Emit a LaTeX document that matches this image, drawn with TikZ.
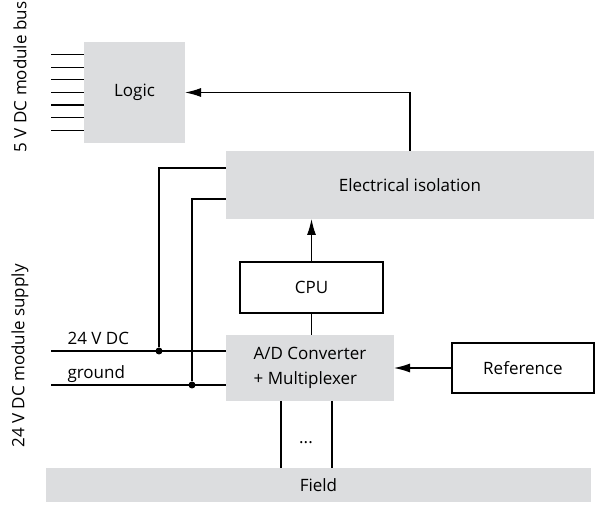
\documentclass[tikz,border=0pt]{standalone}
\usepackage{fontspec}
\setmainfont{Open Sans}
\usetikzlibrary{arrows.meta,positioning}
\definecolor{boxgray}{RGB}{220,221,223}

\begin{document}
\begin{tikzpicture}[x=1pt, y=1pt, every node/.style={font=\fontsize{17}{25}\selectfont}]
\tikzset{shaded/.style={fill=boxgray, inner sep=0pt, outer sep=0pt},
  framed/.style={draw, line width=1.2pt, inner sep=0pt, outer sep=0pt},
  wire/.style={line width=1.2pt},
  arr/.style={wire, -{Latex[length=16pt, width=9pt]}},
  junction/.style={circle, fill, inner sep=0pt, minimum size=7pt}}
\useasboundingbox (0,0) rectangle (595,504);
\node[shaded, minimum width=101pt, minimum height=101pt] (logic) at (134.5,411.5) {Logic};
\node[shaded, minimum width=368pt, minimum height=68pt] (iso) at (410,319) {Electrical isolation};
\node[shaded, minimum width=168pt, minimum height=66pt, align=left] (adc) at (310,136) {A/D Converter\\+ Multiplexer};
\node[framed, minimum width=143pt, minimum height=51pt, above=22pt of adc, xshift=1.5pt] (cpu) {CPU};
\node[framed, minimum width=142pt, minimum height=50pt, right=58pt of adc] (ref) {Reference};
\node[shaded, minimum width=545pt, minimum height=34pt] (field) at (318.5,19) {Field};
\node[rotate=90] (buslbl) at (20,427) {5 V DC module bus};
\node[rotate=90] (supplbl) at (20,148) {24 V DC module supply};
\coordinate (vin) at (51,153);
\coordinate (gnd) at (51,119);
\node[junction] (jvin) at (159,153) {};
\node[junction] (jgnd) at (192,119) {};
\node[anchor=base west] (vinlbl) at (64,159) {24 V DC};
\node[anchor=base west] (gndlbl) at (64,125) {ground};
\node (dots) at (306,61) {...};
\foreach \k in {-3,...,3}
  \draw[wire] ([xshift=-33pt, yshift=\k*12.6pt]logic.west) -- ([yshift=\k*12.6pt]logic.west);
\draw[arr] (iso.north) |- (logic.east);
\draw[arr] (cpu.north) -- (cpu.north |- iso.south);
\draw[wire] (cpu.south) -- (cpu.south |- adc.north);
\draw[arr] (ref) -- (adc);
\draw[wire] (vin) -- (vin -| adc.west);
\draw[wire] (gnd) -- (gnd -| adc.west);
\draw[wire] (jvin) |- ([yshift=17pt]iso.west);
\draw[wire] (jgnd) |- ([yshift=-14pt]iso.west);
\draw[wire] ([xshift=-29pt]adc.south) -- ([xshift=-29pt]adc.south |- field.north);
\draw[wire] ([xshift=22pt]adc.south) -- ([xshift=22pt]adc.south |- field.north);
\end{tikzpicture}
\end{document}
